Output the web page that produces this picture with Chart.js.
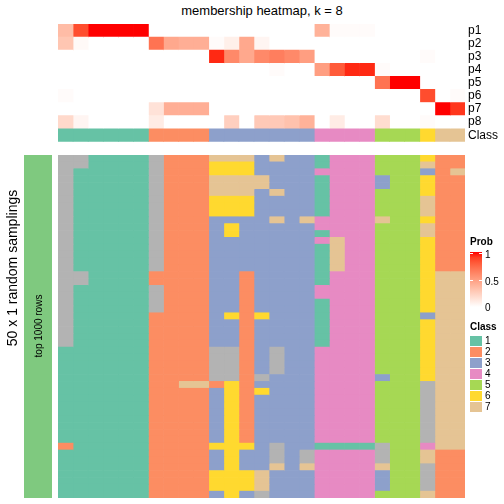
<!DOCTYPE html>
<html>
<head>
<meta charset="utf-8">
<script src="https://cdn.jsdelivr.net/npm/chart.js@4.4.0/dist/chart.umd.min.js"></script>
<style>
  body { margin: 0; background: #fff; font-family: "Liberation Sans", Arial, sans-serif; }
  #wrap { position: relative; width: 504px; height: 504px; overflow: hidden; }
  canvas { position: absolute; left: 0; }
  .txt { position: absolute; white-space: nowrap; color: #000; }
  .rot { transform: translate(-50%, -50%) rotate(-90deg); }
</style>
</head>
<body>
<div id="wrap">
  <div class="txt" style="left:10px;width:504px;top:3px;text-align:center;font-size:13px;">membership heatmap, k = 8</div>
  <canvas id="topChart" width="504" height="152" style="top:0"></canvas>
  <canvas id="bottomChart" width="504" height="343" style="top:155px"></canvas>
  <div style="position:absolute;left:24px;top:155px;width:28px;height:343px;background:#7FC97F;"></div>
  <div class="txt rot" style="left:12px;top:268px;font-size:14px;">50 x 1 random samplings</div>
  <div class="txt rot" style="left:38px;top:326px;font-size:10px;">top 1000 rows</div>
  <div id="legend"></div>
</div>

<script>
"use strict";

// row names of the top annotation

const rowLabels = ["p1", "p2", "p3", "p4", "p5", "p6", "p7", "p8", "Class"];

// class of each column (27 samples)

const columnClasses = [1, 1, 1, 1, 1, 1, 2, 2, 2, 2, 3, 3, 3, 3, 3, 3, 3, 4, 4, 4, 4, 5, 5, 5, 6, 7, 7];

// class colours, 0 = no class

const classColors = ["#B3B3B3", "#66C2A5", "#FC8D62", "#8DA0CB", "#E78AC3", "#A6D854", "#FFD92F", "#E5C494"];
const classNames = ["1", "2", "3", "4", "5", "6", "7"];

// membership probabilities

const p1 = [0.35, 0.85, 1, 1, 1, 1, 0, 0, 0, 0, 0, 0, 0, 0, 0, 0, 0, 0.4, 0.02, 0.02, 0.02, 0, 0, 0, 0, 0, 0];
const p2 = [0.3, 0.03, 0, 0, 0, 0, 0.7, 0.45, 0.42, 0.42, 0.02, 0.08, 0.45, 0.05, 0, 0, 0, 0, 0, 0, 0, 0, 0, 0, 0, 0, 0];
const p3 = [0, 0, 0, 0, 0, 0, 0, 0, 0, 0, 0.95, 0.6, 0.45, 0.6, 0.65, 0.6, 0.5, 0, 0, 0, 0, 0, 0, 0, 0.02, 0, 0];
const p4 = [0, 0, 0, 0, 0, 0, 0, 0, 0, 0, 0, 0, 0, 0, 0.02, 0, 0, 0.5, 0.8, 0.95, 0.95, 0.02, 0, 0, 0, 0, 0];
const p5 = [0, 0, 0, 0, 0, 0, 0, 0, 0, 0, 0, 0, 0, 0, 0, 0, 0, 0, 0, 0, 0, 0.7, 1, 1, 0, 0, 0];
const p6 = [0.02, 0, 0, 0, 0, 0, 0, 0, 0, 0, 0, 0, 0, 0, 0, 0, 0, 0, 0, 0, 0, 0, 0, 0, 0.85, 0, 0.02];
const p7 = [0, 0, 0, 0, 0, 0, 0.15, 0.42, 0.42, 0.42, 0, 0, 0, 0, 0, 0, 0, 0, 0, 0, 0, 0, 0, 0, 0, 1, 0.92];
const p8 = [0.2, 0.05, 0, 0, 0, 0, 0.1, 0, 0, 0, 0, 0.25, 0, 0.28, 0.28, 0.32, 0.4, 0, 0.1, 0, 0, 0.18, 0, 0, 0.02, 0, 0];

// class found in each of the 50 samplings (one string per sampling, one digit per column)

const samplings = [
  "001111022277737331444555622",
  "001111022266633331444555722",
  "011111022266633334444555327",
  "011111022277773331444355622",
  "011111022277773331444355622",
  "011111022277737331444555622",
  "011111022266633331444555722",
  "011111022266633331444555722",
  "011111022266633331444555722",
  "011111022233337374444755622",
  "011111022236333334444555722",
  "011111022236333331444555722",
  "011111022233333334744555622",
  "011111022233333331744555622",
  "011111022233333331744555622",
  "011111022233333331744555622",
  "011111022233333331744555622",
  "001111222233233331444555677",
  "001111222233233331444555677",
  "011111022233233334444555677",
  "011111022233233334444555677",
  "011111022233233331444555677",
  "011111022233233331444555677",
  "011111222236263331444555377",
  "011111222233233331444555677",
  "011111222233233331444555677",
  "011111222233233331444555677",
  "011111222233233331444555677",
  "111111222200230334444555677",
  "111111222200230334444555677",
  "111111222200230334444555677",
  "111111222200230334444555677",
  "111111222200203334444355677",
  "111111227726233334444555077",
  "111111222236263334444555077",
  "111111222236233334444555077",
  "111111222236233334444555077",
  "111111222236233334444555077",
  "111111222236233334444555077",
  "111111222236233334444555077",
  "111111222236233334444555077",
  "111111222236233334444555077",
  "211111222266630331111055477",
  "111111222236330304444055722",
  "111111222236330304444055722",
  "111111222236337374444755022",
  "111111222266673334444355022",
  "111111222266673334444355022",
  "111111222266673334444355022",
  "111111222236303334444555722"
];

const probRows = [p1, p2, p3, p4, p5, p6, p7, p8];
const FONT = "'Liberation Sans', Arial, sans-serif";


// white -> red colour ramp in Lab space

function toLinear(c) {
  c = c / 255;
  return c <= 0.04045 ? c / 12.92 : Math.pow((c + 0.055) / 1.055, 2.4);
}

function fromLinear(c) {
  c = c <= 0.0031308 ? 12.92 * c : 1.055 * Math.pow(c, 1 / 2.4) - 0.055;
  return Math.round(Math.max(0, Math.min(1, c)) * 255);
}

function rgbToLab(rgb) {
  const r = toLinear(rgb[0]), g = toLinear(rgb[1]), b = toLinear(rgb[2]);
  const x = (0.4124 * r + 0.3576 * g + 0.1805 * b) / 0.95047;
  const y = (0.2126 * r + 0.7152 * g + 0.0722 * b);
  const z = (0.0193 * r + 0.1192 * g + 0.9505 * b) / 1.08883;
  const f = t => t > 0.008856 ? Math.cbrt(t) : 7.787 * t + 16 / 116;
  return [116 * f(y) - 16, 500 * (f(x) - f(y)), 200 * (f(y) - f(z))];
}

function labToRgb(lab) {
  const fy = (lab[0] + 16) / 116;
  const fx = fy + lab[1] / 500;
  const fz = fy - lab[2] / 200;
  const inv = t => t * t * t > 0.008856 ? t * t * t : (t - 16 / 116) / 7.787;
  const x = inv(fx) * 0.95047, y = inv(fy), z = inv(fz) * 1.08883;
  const r = 3.2406 * x - 1.5372 * y - 0.4986 * z;
  const g = -0.9689 * x + 1.8758 * y + 0.0415 * z;
  const b = 0.0557 * x - 0.2040 * y + 1.0570 * z;
  return "rgb(" + fromLinear(r) + "," + fromLinear(g) + "," + fromLinear(b) + ")";
}

const labWhite = rgbToLab([255, 255, 255]);
const labRed = rgbToLab([255, 0, 0]);

function probColor(v) {
  return labToRgb([0, 1, 2].map(i => labWhite[i] + (labRed[i] - labWhite[i]) * v));
}


// top heatmap: one dataset per column

const topDatasets = [];
for (let c = 0; c < columnClasses.length; c++) {
  const colors = probRows.map(p => probColor(p[c]));
  colors.push(classColors[columnClasses[c]]);
  topDatasets.push({
    data: rowLabels.map(() => [c, c + 1]),
    backgroundColor: colors,
    grouped: false,
    barPercentage: 1,
    categoryPercentage: 1,
    borderWidth: 0
  });
}

new Chart(document.getElementById("topChart"), {
  type: "bar",
  data: { labels: rowLabels, datasets: topDatasets },
  options: {
    indexAxis: "y",
    responsive: false,
    animation: false,
    events: [],
    layout: { padding: { left: 58, top: 24, right: 0, bottom: 0 } },
    plugins: { legend: { display: false }, tooltip: { enabled: false } },
    scales: {
      x: { type: "linear", min: 0, max: columnClasses.length, display: false },
      y: {
        type: "category",
        position: "right",
        grid: { display: false, drawTicks: false },
        border: { display: false },
        ticks: { color: "#000", font: { family: FONT, size: 12 }, padding: 3, autoSkip: false },
        afterFit: function (scale) { scale.width = 39; }
      }
    }
  }
});


// bottom heatmap: classes of every sampling

const samplingLabels = samplings.map((s, i) => "sampling " + (i + 1));
const bottomDatasets = [];
for (let c = 0; c < columnClasses.length; c++) {
  bottomDatasets.push({
    data: samplings.map(() => [c, c + 1]),
    backgroundColor: samplings.map(s => classColors[Number(s[c])]),
    grouped: false,
    barPercentage: 1,
    categoryPercentage: 1,
    borderWidth: 0
  });
}

new Chart(document.getElementById("bottomChart"), {
  type: "bar",
  data: { labels: samplingLabels, datasets: bottomDatasets },
  options: {
    indexAxis: "y",
    responsive: false,
    animation: false,
    events: [],
    layout: { padding: { left: 58, top: 0, right: 39, bottom: 0 } },
    plugins: { legend: { display: false }, tooltip: { enabled: false } },
    scales: {
      x: { type: "linear", min: 0, max: columnClasses.length, display: false },
      y: { type: "category", display: false }
    }
  }
});


// legends

const legend = document.getElementById("legend");
let html = "";
html += '<div class="txt" style="left:470px;top:236px;font-size:10px;font-weight:bold;">Prob</div>';
const stops = [];
for (let i = 0; i <= 10; i++) stops.push(probColor(i / 10) + " " + (i * 10) + "%");
html += '<div style="position:absolute;left:470px;top:252px;width:12px;height:55px;background:linear-gradient(to top,' + stops.join(",") + ');"></div>';
[[253, "1"], [280, "0.5"]].forEach(t => {
  html += '<div style="position:absolute;left:470px;top:' + t[0] + 'px;width:3px;height:1px;background:#fff;"></div>';
  html += '<div style="position:absolute;left:479px;top:' + t[0] + 'px;width:3px;height:1px;background:#fff;"></div>';
});
[[255, "1"], [282, "0.5"], [308, "0"]].forEach(t => {
  html += '<div class="txt" style="left:485px;top:' + (t[0] - 6) + 'px;font-size:10px;">' + t[1] + '</div>';
});
html += '<div class="txt" style="left:470px;top:321px;font-size:10px;font-weight:bold;">Class</div>';
classNames.forEach((name, i) => {
  const y = 336 + i * 11;
  html += '<div style="position:absolute;left:470px;top:' + y + 'px;width:12px;height:10px;background:' + classColors[i + 1] + ';border-bottom:1px solid #fff;"></div>';
  html += '<div class="txt" style="left:485px;top:' + (y - 1) + 'px;font-size:10px;">' + name + '</div>';
});
legend.innerHTML = html;
</script>
</body>
</html>
